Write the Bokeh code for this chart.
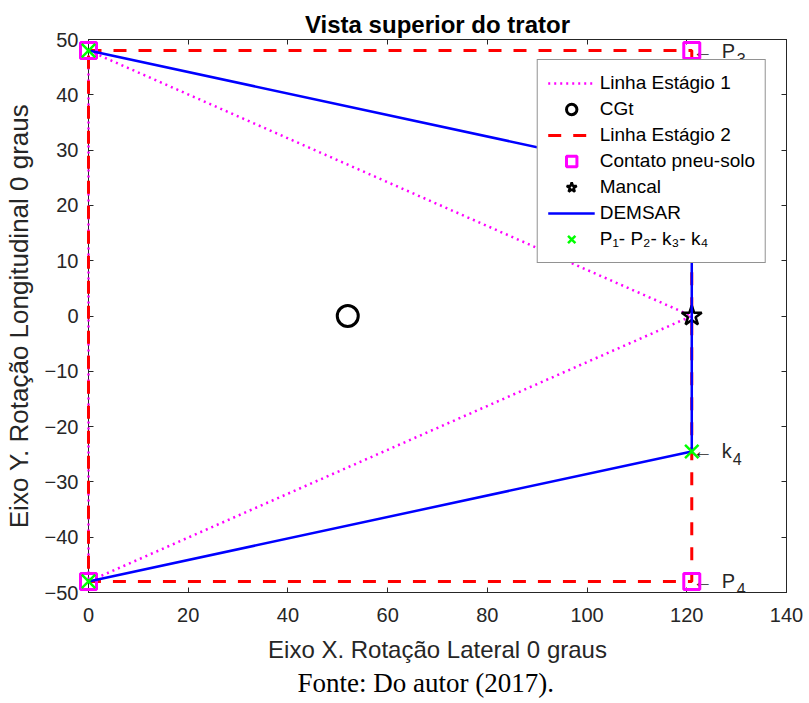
from bokeh.plotting import figure
from bokeh.models import (Title, Legend, LegendItem, LinearAxis, FixedTicker,
                          ColumnDataSource)
from bokeh.core.properties import value
from bokeh.embed import file_html
from bokeh.resources import INLINE

# ---- data ----
stage1_x = [0, 121, 0, 0]
stage1_y = [48, 0, -48, 48]
cg_x = [52]
cg_y = [0]
stage2_x = [0, 121, 121, 0, 0]
stage2_y = [48, 48, -48, -48, 48]
contact_x = [0, 0, 121, 121]
contact_y = [48, -48, 48, -48]
mancal_x = [121]
mancal_y = [0]
demsar_x = [0, 121, 121, 0]
demsar_y = [48, 24.5, -24.5, -48]
pk_x = [0, 0, 121, 121]
pk_y = [48, -48, 24.5, -24.5]
ann_x = [121, 121, 121]
ann_y = [48, -24.5, -48]
ann_letter = ["P", "k", "P"]
ann_sub = ["3", "4", "4"]
x_ticks = [0, 20, 40, 60, 80, 100, 120, 140]
y_ticks = [-50, -40, -30, -20, -10, 0, 10, 20, 30, 40, 50]

TXT = "#262626"
FONT = "Liberation Sans"

p = figure(width=805, height=700, x_range=(0, 140), y_range=(-50, 50),
           output_backend="svg", toolbar_location=None,
           min_border_left=83, min_border_top=39, min_border_bottom=108,
           min_border_right=19)
p.grid.visible = False
p.outline_line_color = TXT
p.outline_line_width = 1
p.background_fill_color = "white"

# title
p.title.text = "Vista superior do trator"
p.title.align = "center"
p.title.text_font = FONT
p.title.text_font_size = "24px"
p.title.text_font_style = "bold"
p.title.text_color = "black"
p.title.standoff = 4

def style_axis(ax, labels=True):
    ax.major_tick_in = 5
    ax.major_tick_out = 0
    ax.minor_tick_line_color = None
    ax.axis_line_color = TXT
    ax.major_tick_line_color = TXT
    ax.major_label_text_font = FONT
    ax.major_label_text_color = TXT
    if labels:
        ax.major_label_text_font_size = "20px"
    else:
        ax.major_label_text_font_size = "0px"
        ax.major_label_standoff = 0

p.xaxis.ticker = FixedTicker(ticks=x_ticks)
p.yaxis.ticker = FixedTicker(ticks=y_ticks)
style_axis(p.xaxis[0])
style_axis(p.yaxis[0])
p.xaxis.major_label_standoff = 15
p.yaxis.major_label_standoff = 10
p.xaxis.axis_label = "Eixo X. Rotação Lateral 0 graus"
p.yaxis.axis_label = "Eixo Y. Rotação Longitudinal 0 graus"
for ax in (p.xaxis[0], p.yaxis[0]):
    ax.axis_label_text_font = FONT
    ax.axis_label_text_font_style = "normal"
    ax.axis_label_text_color = TXT
p.xaxis.axis_label_text_font_size = "24px"
p.yaxis.axis_label_text_font_size = "26px"
p.xaxis.axis_label_standoff = 11
p.yaxis.axis_label_standoff = 8

top_ax = LinearAxis(ticker=FixedTicker(ticks=x_ticks))
right_ax = LinearAxis(ticker=FixedTicker(ticks=y_ticks))
style_axis(top_ax, labels=False)
style_axis(right_ax, labels=False)
p.add_layout(top_ax, "above")
p.add_layout(right_ax, "right")

# source note
p.add_layout(Title(text="Fonte: Do autor (2017).", align="left",
                   text_font="Liberation Serif", text_font_size="27px",
                   text_font_style="normal", text_color="black", offset=209,
                   standoff=0),
             "below")

# ---- glyphs ----
LV = "annotation"
r1 = p.line(stage1_x, stage1_y, line_color="#FF00FF", line_width=2.5,
            line_dash="2 4", level=LV)
r2 = p.scatter(cg_x, cg_y, marker="circle", size=21, fill_color=None,
               line_color="black", line_width=3, level=LV)
r3 = p.line(stage2_x, stage2_y, line_color="#FF0000", line_width=3,
            line_dash="13 12", level=LV)
r4 = p.scatter(contact_x, contact_y, marker="square", size=16,
               fill_color=None, line_color="#FF00FF", line_width=3, level=LV)
r5 = p.scatter(mancal_x, mancal_y, marker="star", size=21, fill_color=None,
               line_color="black", line_width=2.5, level=LV)
r6 = p.line(demsar_x, demsar_y, line_color="#0000FF", line_width=2.5,
            level=LV)
r7 = p.scatter(pk_x, pk_y, marker="x", size=19, line_color="#00FF00",
               line_width=2.5, level=LV)

src = ColumnDataSource(dict(x=ann_x, y=ann_y, arrow=["\u2190"] * 3,
                            letter=ann_letter, sub=ann_sub,
                            sub_dx=[45, 41, 45]))
p.text(x="x", y="y", text="arrow", source=src, text_font=value(FONT),
       text_font_size="20px", text_color=TXT, text_baseline="middle",
       text_align="left", x_offset=1)
p.text(x="x", y="y", text="letter", source=src, text_font=value(FONT),
       text_font_size="20px", text_color=TXT, text_baseline="middle",
       text_align="left", x_offset=30)
p.text(x="x", y="y", text="sub", source=src, text_font=value(FONT),
       text_font_size="16px", text_color=TXT, text_baseline="middle",
       text_align="left", x_offset="sub_dx", y_offset=8)

legend = Legend(items=[
    LegendItem(label="Linha Estágio 1", renderers=[r1]),
    LegendItem(label="CGt", renderers=[r2]),
    LegendItem(label="Linha Estágio 2", renderers=[r3]),
    LegendItem(label="Contato pneu-solo", renderers=[r4]),
    LegendItem(label="Mancal", renderers=[r5]),
    LegendItem(label="DEMSAR", renderers=[r6]),
    LegendItem(label="P\u2081- P\u2082- k\u2083- k\u2084", renderers=[r7]),
], location="top_right")
legend.margin = 20
legend.border_line_color = TXT
legend.border_line_width = 1
legend.background_fill_color = "white"
legend.background_fill_alpha = 1
legend.label_text_font = FONT
legend.label_text_font_size = "19px"
legend.label_text_color = "black"
legend.glyph_width = 47
legend.glyph_height = 26
legend.spacing = 0
legend.padding = 10
legend.label_standoff = 5
p.add_layout(legend, "center")

open("out.html", "w").write(file_html(p, INLINE))
